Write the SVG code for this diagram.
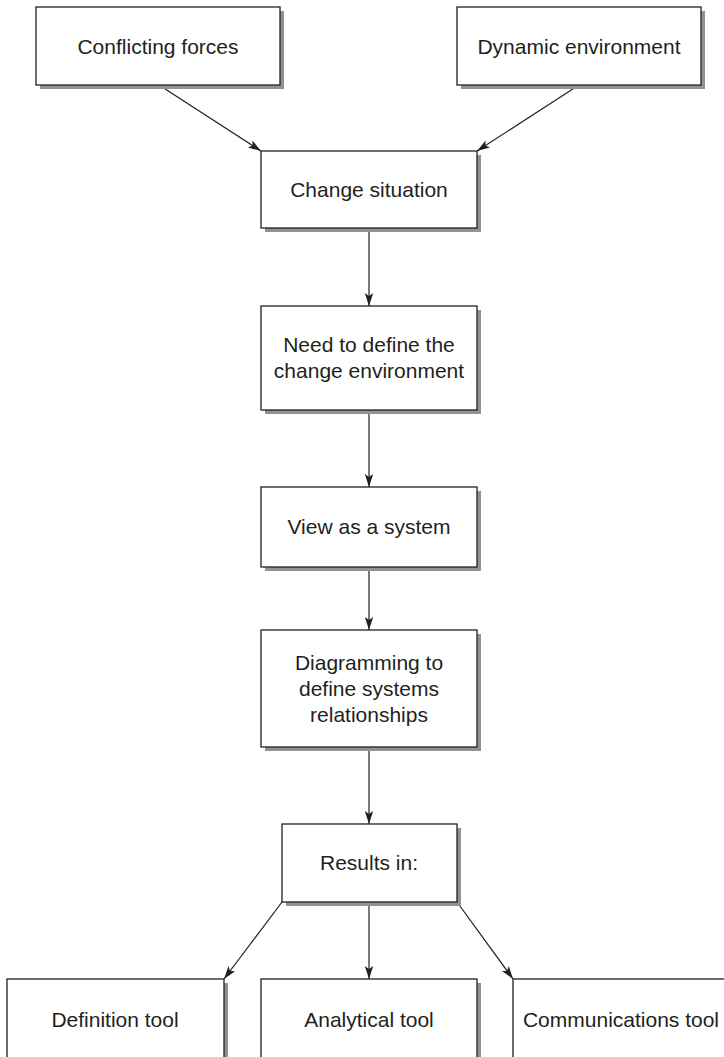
<svg xmlns="http://www.w3.org/2000/svg" width="724" height="1057" viewBox="0 0 724 1057">
  <style>
    .shadow { fill: #929292; }
    .box { fill: #ffffff; stroke: #231f20; stroke-width: 1.3; }
    .label { font-family: "Liberation Sans", Arial, sans-serif; font-size: 21px; fill: #231f20; text-anchor: middle; }
    .conn { stroke: #231f20; stroke-width: 1.2; fill: none; marker-end: url(#arrow); }
  </style>
  <defs>
    <marker id="arrow" markerUnits="userSpaceOnUse" markerWidth="14" markerHeight="10" refX="13" refY="5" orient="auto">
      <path d="M0,0.8 L13,5 L0,9.2 L3,5 Z" fill="#231f20"/>
    </marker>
  </defs>

  <rect width="724" height="1057" fill="#ffffff"/>

  <!-- connectors -->
  <g id="connectors">
    <line class="conn" x1="159" y1="85" x2="261" y2="151"/>
    <line class="conn" x1="579" y1="85" x2="477" y2="151"/>
    <line class="conn" x1="369" y1="228" x2="369" y2="306"/>
    <line class="conn" x1="369" y1="410" x2="369" y2="487"/>
    <line class="conn" x1="369" y1="567" x2="369" y2="630"/>
    <line class="conn" x1="369" y1="747" x2="369" y2="824"/>
    <line class="conn" x1="282" y1="902" x2="224" y2="979"/>
    <line class="conn" x1="369" y1="902" x2="369" y2="979"/>
    <line class="conn" x1="457" y1="902" x2="513" y2="979"/>
  </g>

  <g id="conflicting-forces">
    <rect class="shadow" x="40" y="11" width="244" height="78"/>
    <rect class="box" x="36" y="7" width="244" height="78"/>
    <text class="label" x="158" y="54">Conflicting forces</text>
  </g>

  <g id="dynamic-environment">
    <rect class="shadow" x="461" y="11" width="244" height="78"/>
    <rect class="box" x="457" y="7" width="244" height="78"/>
    <text class="label" x="579" y="54">Dynamic environment</text>
  </g>

  <g id="change-situation">
    <rect class="shadow" x="265" y="155" width="216" height="77"/>
    <rect class="box" x="261" y="151" width="216" height="77"/>
    <text class="label" x="369" y="197">Change situation</text>
  </g>

  <g id="define-environment">
    <rect class="shadow" x="265" y="310" width="216" height="104"/>
    <rect class="box" x="261" y="306" width="216" height="104"/>
    <text class="label" x="369" y="352">Need to define the</text>
    <text class="label" x="369" y="378">change environment</text>
  </g>

  <g id="view-as-system">
    <rect class="shadow" x="265" y="491" width="216" height="80"/>
    <rect class="box" x="261" y="487" width="216" height="80"/>
    <text class="label" x="369" y="534">View as a system</text>
  </g>

  <g id="diagramming">
    <rect class="shadow" x="265" y="634" width="216" height="117"/>
    <rect class="box" x="261" y="630" width="216" height="117"/>
    <text class="label" x="369" y="670">Diagramming to</text>
    <text class="label" x="369" y="696">define systems</text>
    <text class="label" x="369" y="722">relationships</text>
  </g>

  <g id="results-in">
    <rect class="shadow" x="286" y="828" width="175" height="78"/>
    <rect class="box" x="282" y="824" width="175" height="78"/>
    <text class="label" x="369" y="870">Results in:</text>
  </g>

  <g id="definition-tool">
    <rect class="shadow" x="11" y="983" width="217" height="100"/>
    <rect class="box" x="7" y="979" width="217" height="100"/>
    <text class="label" x="115" y="1027">Definition tool</text>
  </g>

  <g id="analytical-tool">
    <rect class="shadow" x="265" y="983" width="216" height="100"/>
    <rect class="box" x="261" y="979" width="216" height="100"/>
    <text class="label" x="369" y="1027">Analytical tool</text>
  </g>

  <g id="communications-tool">
    <rect class="shadow" x="517" y="983" width="220" height="100"/>
    <rect class="box" x="513" y="979" width="220" height="100"/>
    <text class="label" x="621" y="1027">Communications tool</text>
  </g>
</svg>
